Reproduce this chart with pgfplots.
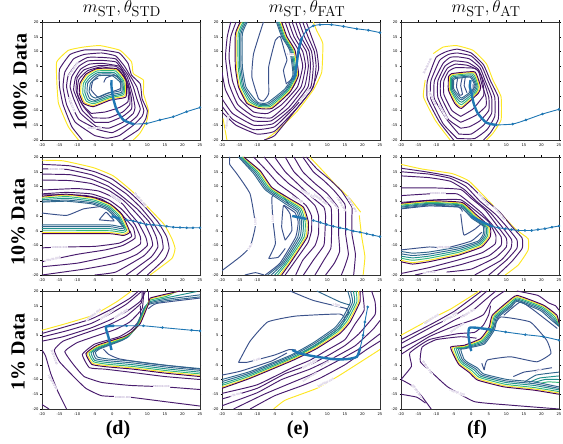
\documentclass[border=0pt]{standalone}
\usepackage[no-math]{fontspec}
\setmainfont{Liberation Serif}
\newfontfamily\tickfont{DejaVu Sans}
\usepackage{pgfplots}
\pgfplotsset{compat=1.18}
\definecolor{Vy}{HTML}{FDE725}
\definecolor{Vp}{HTML}{481B6D}
\definecolor{Vd}{HTML}{440154}
\definecolor{Vl}{HTML}{A6DB40}
\definecolor{Vg}{HTML}{35B779}
\definecolor{Vt}{HTML}{21918C}
\definecolor{Vb}{HTML}{31688E}
\definecolor{Vc}{HTML}{3B528B}
\definecolor{Lb}{HTML}{A893C4}
\definecolor{Tr}{HTML}{1F77B4}
\pgfplotsset{panel/.style={
  scale only axis,width=158pt,height=118pt,anchor=south west,
  xmin=-20,xmax=25,ymin=-20,ymax=20,
  xtick={-20,-15,...,25},ytick={-20,-15,...,20},
  tick label style={font=\tickfont\fontsize{3.7}{4}\selectfont},
  /pgf/number format/assume math mode=true,
  xticklabel style={yshift=1.6pt},yticklabel style={xshift=1.6pt},
  tick align=outside,major tick length=1.5pt,
  axis line style={line width=0.9pt,color=black!80},
  every tick/.style={line width=0.3pt,black},
}}
\newcommand\C[2]{\addplot[color=#1,line width=0.95pt,line join=round,smooth,tension=0.25] coordinates {#2};}
\newcommand\Tr[2]{%
 \addplot[color=Tr,line width=0.9pt,smooth,tension=0.4,mark=*,mark size=0.8pt,mark options={fill=Tr,draw=Tr}] coordinates {#1};
 \addplot[color=Tr,line width=2.4pt,smooth,tension=0.4] coordinates {#2};}
\newcommand\Lab[4]{\node[rotate=#3,fill=white,inner sep=0.1pt,text=Lb,font=\tickfont\fontsize{2.7}{3}\selectfont] at (axis cs:#1,#2) {#4};}
\begin{document}
\begin{tikzpicture}
\path[use as bounding box] (0pt,0pt) rectangle (563pt,444pt);
% titles
\node at (122pt,435.5pt) {\fontsize{19}{22}\selectfont $m_{\mathrm{ST}},\theta_{\mathrm{STD}}$};
\node at (307pt,435.5pt) {\fontsize{19}{22}\selectfont $m_{\mathrm{ST}},\theta_{\mathrm{FAT}}$};
\node at (486pt,435.5pt) {\fontsize{19}{22}\selectfont $m_{\mathrm{ST}},\theta_{\mathrm{AT}}$};
\node[rotate=90] at (20pt,362pt) {\fontsize{20}{24}\selectfont\bfseries 100\% Data};
\node[rotate=90] at (18pt,222pt) {\fontsize{20}{24}\selectfont\bfseries 10\% Data};
\node[rotate=90] at (18pt,92pt) {\fontsize{20}{24}\selectfont\bfseries 1\% Data};
\node at (118pt,14pt) {\fontsize{20}{24}\selectfont\bfseries (d)};
\node at (298pt,14pt) {\fontsize{20}{24}\selectfont\bfseries (e)};
\node at (477pt,14pt) {\fontsize{20}{24}\selectfont\bfseries (f)};

% ---- row 1 col 1
\begin{axis}[panel,at={(42pt,304pt)}]
\C{Vy}{(-9.6,-20)(-12.5,-15.5)(-15.3,-7.6)(-15.8,0.3)(-15.8,6.5)(-12.5,10.4)(-8.2,11.5)(-3.5,12)(2.2,10.4)(5.5,6.5)(6,2.5)(8.9,0.3)(8.9,-4.2)(10.3,-9.9)(9.8,-13.7)(7.9,-17.7)(6,-20)}
\C{Vp}{(-8.5,-20)(-11.5,-15.5)(-14,-8)(-15,-2)(-15,4)(-12,9)(-8,10.5)(-3,10.5)(2,9.5)(4.5,6)(5.5,2)(8,-1)(8.5,-6)(10,-10)(9.5,-13)(7.5,-16.5)(3,-20)}
\C{Vp}{(-5,-18.5)(-1.5,-19.4)(2,-18.5)(6,-15)(8.5,-12)(9,-10)(8,-6)(7,-2)(5,2)(3.5,5)(1,8.5)(-3,9.5)(-8,9)(-11,7.5)(-13.5,3)(-14,-2)(-13,-8)(-10.5,-14)(-5,-18.5)}
\C{Vp}{(-4,-16.5)(0,-17.5)(4,-15)(7,-12)(8,-9.5)(7,-6)(6,-2)(4.5,2)(3,4.5)(1,7.5)(-3,8)(-7,8)(-10,6)(-12.5,2)(-13,-2)(-12,-7)(-9.5,-13)(-4,-16.5)}
\C{Vp}{(-4.5,-15.5)(-1,-16)(3,-14)(6,-11)(6.5,-9)(6,-5.5)(5.2,-2)(4.2,1.5)(2.5,4.5)(1,6.5)(-3,7)(-7,6.8)(-9.5,5)(-11.5,1.5)(-12,-2)(-11,-6)(-9,-11)(-4.5,-15.5)}
\C{Vp}{(-5,-14)(-1,-14)(3,-12)(5.5,-9.5)(5.5,-6)(4.8,-2)(3.5,2)(2,5)(-3,6)(-6.5,5.7)(-9,4)(-10.5,1)(-11,-3)(-10,-6)(-8.5,-10)(-5,-14)}
\C{Vp}{(-5.5,-12.5)(-1,-12.5)(3,-10.5)(5,-8)(5,-5)(4.5,-1)(3,3)(1,5)(-4,5.2)(-8,3.8)(-10,1)(-10.3,-3)(-9.5,-6)(-8,-9)(-5.5,-12.5)}
\C{Vp}{(-6,-11)(-2,-10.5)(2,-9)(4.5,-7)(4.5,-3)(4,0)(2,3.5)(-3,4.8)(-7,3.5)(-9.5,0.5)(-10,-4)(-8.5,-8)(-6,-11)}
\C{Vc}{(-2.4,-0.5)(-1.8,1)(0.5,2)(2.2,1)(2.4,-2.5)(-1,-4)(-4,-5.5)(-6,-3)(-5.5,0)(-4,1)}
\C{Vb}{(-6.6,-3.6)(-6.2,-0.8)(-5.2,0.5)(-3.8,1.8)(0,1.8)(2.3,-0.5)(2.3,-3.3)(-1.5,-4.2)(-4.8,-5.8)(-6,-5)(-6.6,-3.6)}
\C{Vb}{(-7.2,-3.8)(-7,-0.8)(-5.8,0.8)(-4,2.3)(0.3,2.3)(2.7,-0.3)(2.7,-3.8)(-1.2,-4.8)(-5,-6.6)(-6.5,-5.8)(-7.2,-3.8)}
\C{Vt}{(-7.8,-3.9)(-7.6,-0.8)(-6.3,1.2)(-4.2,2.8)(0.6,2.8)(3,-0.2)(3,-4.2)(-1,-5.3)(-5.2,-7.1)(-7,-6.3)(-7.8,-3.9)}
\C{Vg}{(-8.4,-4)(-8.2,-0.8)(-6.8,1.6)(-4.3,3.4)(0.9,3.4)(3.3,0)(3.3,-4.6)(-0.8,-5.7)(-5.3,-7.7)(-7.4,-6.8)(-8.4,-4)}
\C{Vy}{(-9,-4.2)(-8.8,-0.8)(-7.2,2)(-4.4,3.9)(1.1,3.9)(3.6,0.2)(3.6,-5)(-0.7,-6.1)(-5.4,-8.3)(-7.9,-7.3)(-9,-4.2)}
\C{Vd}{(-9.4,-4.2)(-9.2,-0.8)(-7.5,2.3)(-4.4,4.2)(1.3,4.2)(3.9,0.3)(3.9,-5.4)(-0.6,-6.5)(-5.4,-8.7)(-8.2,-7.6)(-9.4,-4.2)}
\Lab{-11}{4}{55}{100000.000}
\Lab{-11.5}{-8}{-70}{100000.000}
\Lab{-5}{-16}{0}{10000.000}
\Tr{(25,-9)(21.2,-10.4)(17.4,-12.1)(13.6,-13.2)(9.8,-14.4)(6,-14.6)}{(6,-14.6)(3.2,-13.2)(1.3,-9.9)(0.3,-5.9)(-0.2,-2)(-0.2,0.3)}
\end{axis}

% ---- row 1 col 2
\begin{axis}[panel,at={(222pt,304pt)}]
\C{Vy}{(6,20)(7,17)(8.7,12.7)(8.4,3)(6,-3)(1.3,-10.4)(-4.4,-17)(-7.7,-20)}
\C{Vy}{(-19.7,-12.7)(-18.6,-20)}
\C{Vp}{(4,20)(5.5,15)(7,10)(7.5,4)(5.5,-3)(0.5,-10.5)(-5,-18.5)(-8,-20)}
\C{Vp}{(3,20)(4.5,15)(6.3,10)(6.8,5)(6,-2)(1.5,-9)(-5,-17)(-10,-18)(-16,-15)(-20,-10.5)}
\C{Vp}{(2,20)(3.5,15)(5.5,10)(6,5)(5.3,-2)(1,-8.5)(-5,-15.5)(-11,-16.5)(-17,-13)(-20,-8.5)}
\C{Vp}{(1,20)(2.5,15)(4.8,10)(5.2,5)(4.5,-2)(0,-9)(-5.5,-14.5)(-11,-15)(-17,-11)(-20,-6)}
\C{Vp}{(0,20)(1.5,15)(4,10)(4.6,5)(3.5,-2)(-1,-9)(-6,-13.5)(-11,-13.5)(-16,-9.5)(-19,-3)(-20,3)}
\C{Vp}{(-1,20)(0.5,15)(3,10)(3.8,5)(2.5,-2)(-2,-8.5)(-6,-12.5)(-11,-12)(-15.5,-8)(-18,-1)(-19,8)(-18.5,15)(-17.5,20)}
\C{Vp}{(-2,20)(-0.5,15)(2,10)(3,5)(1.5,-2)(-3,-8)(-7,-11)(-11,-10.5)(-15,-6)(-17,0)(-18,8)(-17.5,15)(-16,20)}
\C{Vc}{(-8.2,20)(-11,9.3)(-11.5,1.4)(-9.6,-6)(-8.2,-6.8)(-6.7,-4.2)(-6.7,4.8)(-4.8,13.8)(-3.4,15)(-2,9.3)(-1.5,7)(-2.5,3.6)(-1.7,-0.8)}
\C{Vc}{(-1.8,-1)(-0.2,0.5)(1.2,2)(0.3,-2)(-1.8,-2)}
\C{Vb}{(-12.8,20)(-14.2,16)(-14.2,4.8)(-13.2,-2)(-11,-5.7)(-9.6,-7.4)(-7.1,-7.4)(-2.1,-2.7)(0.2,2)(-0.7,10.4)(-3,15)(-4.5,20)}
\C{Vb}{(-13.2,20)(-14.6,16)(-14.6,4.8)(-13.7,-2)(-11.5,-6.1)(-9.6,-7.8)(-6.8,-7.8)(-1.8,-3)(0.5,2)(-0.4,10.4)(-2.7,15)(-4.2,20)}
\C{Vt}{(-13.6,20)(-15,16)(-15,4.8)(-14.1,-2)(-11.9,-6.5)(-9.6,-8.2)(-6.5,-8.2)(-1.5,-3.2)(0.8,2)(-0.1,10.4)(-2.4,15)(-3.9,20)}
\C{Vg}{(-14,20)(-15.4,16)(-15.4,4.8)(-14.5,-2)(-12.3,-6.9)(-9.6,-8.6)(-6.2,-8.6)(-1.2,-3.4)(1.1,2)(0.2,10.4)(-2.1,15)(-3.6,20)}
\C{Vy}{(-14.5,20)(-15.9,16)(-15.9,4.8)(-15,-2)(-12.7,-7.3)(-9.6,-9)(-6,-9)(-0.9,-3.6)(1.5,2)(0.5,10.4)(-1.8,15)(-3.3,20)}
\C{Vd}{(-14.8,20)(-16.2,16)(-16.2,4.8)(-15.3,-2)(-12.9,-7.6)(-9.6,-9.3)(-5.8,-9.3)(-0.6,-3.7)(1.8,2)(0.8,10.4)(-1.5,15)(-3,20)}
\Lab{3.5}{-5}{50}{100000.000}
\Lab{-18.5}{-14}{80}{10000.000}
\Lab{-0.5}{9}{0}{1.000}
\Tr{(25,16.4)(21.7,17.2)(18.4,17.7)(14.6,18.5)(11.2,19.1)(7.9,19.1)(6,18.7)(4.1,17.2)(2.7,14.4)}{(2.7,14.4)(1.8,10.4)(1.3,5.9)(0.9,2.5)(0.2,0.3)}
\end{axis}

% ---- row 1 col 3
\begin{axis}[panel,at={(401pt,304pt)}]
\C{Vy}{(-6,-20)(-7.5,-17.7)(-10.3,-13.2)(-13.6,-5.4)(-13.1,0.3)}
\C{Vy}{(-10.8,9.3)(-8,11.5)(-4.2,12)(0.5,10.4)(4.3,5.9)(6.2,0.3)(8.5,-5.4)(8.5,-13.2)(6.2,-17.7)(4.3,-20)}
\C{Vp}{(-5,-20)(-9,-14)(-12.5,-6)(-12.5,0)(-10,8)(-7,10)(-4,10.8)(0,9.5)(3.5,5.5)(5.5,0)(7.7,-5.5)(7.7,-13)(5.5,-17.5)(3.5,-20)}
\C{Vp}{(-4,-19.5)(-8,-14.5)(-11.5,-6)(-11.5,0)(-9,7)(-6.5,9)(-4,9.5)(0,8.5)(3,5)(4.8,0)(6.7,-5.5)(6.7,-12)(4.5,-16.5)(1,-19.5)(-4,-19.5)}
\C{Vp}{(-3.5,-18)(-7,-13)(-10.5,-6)(-10.5,0)(-8,6)(-6,8)(-4,8.2)(-0.5,7.5)(2.5,4.5)(4,0)(5.8,-5.5)(5.8,-11)(3.5,-15)(0,-18)(-3.5,-18)}
\C{Vp}{(-3,-16)(-6.5,-13)(-9.5,-5.5)(-9.5,0)(-7.5,5)(-5,6.8)(-1,6.3)(2,4)(3.5,0)(5,-5.5)(5,-10)(2.5,-13.5)(-0.5,-15.5)(-3,-16)}
\C{Vp}{(-3,-14)(-6,-11.5)(-8.7,-5)(-8.7,0)(-6.8,4.3)(-4.5,5.7)(-1,5.3)(2,3.5)(3,-1)(4.2,-5.5)(4.2,-8.5)(1.5,-11.5)(-1,-13)(-3,-14)}
\C{Vp}{(-3,-12)(-5.5,-10)(-7.8,-4.5)(-7.8,0)(-6.5,3.2)(-4.5,4.5)(1,4.3)(2.8,2)(3.5,-2)(3.5,-5)(0.5,-9.5)(-3,-12)}
\C{Vc}{(-3.9,0.8)(-4.2,-2)(-3.3,-4.8)(-2.5,-4.5)(-3,-1.5)(-2.6,1)}
\C{Vc}{(-1.7,1.1)(-2,-1.5)(-1.2,-4)}
\C{Vc}{(-0.7,-3.5)(0.5,-3)(0.5,-1)}
\C{Vb}{(-5,0.4)(-4.5,0.8)(-0.3,1.3)(1.1,-1.7)(0.2,-3.3)(-2.7,-5.8)(-3.5,-5)(-5,-2.6)(-5,0.4)}
\C{Vb}{(-5.3,0.6)(-4.8,1.1)(0,1.6)(1.4,-1.8)(0.6,-3.5)(-2.7,-6.4)(-3.7,-5.6)(-5.3,-2.8)(-5.3,0.6)}
\C{Vt}{(-5.6,0.9)(-5,1.5)(0.3,2)(1.7,-1.9)(1,-3.7)(-2.7,-7.2)(-3.9,-6.2)(-5.6,-3)(-5.6,0.9)}
\C{Vg}{(-5.9,1.1)(-5.2,1.9)(0.6,2.4)(2,-1.9)(1.4,-3.9)(-2.7,-8)(-4.1,-6.8)(-5.9,-3)(-5.9,1.1)}
\C{Vy}{(-6.2,1.3)(-5.4,2.2)(0.8,2.8)(2.3,-2)(1.7,-4)(-2.7,-8.8)(-4.4,-7.3)(-6.2,-3.1)(-6.2,1.3)}
\C{Vd}{(-6.5,1.4)(-5.6,2.5)(1,3.1)(2.7,-2)(2,-4.2)(-2.8,-9.3)(-4.7,-7.6)(-6.5,-3.1)(-6.5,1.4)}
\Lab{-12.5}{5}{65}{1000000.000}
\Lab{-11}{-6}{-65}{100000.000}
\Lab{-8}{-10.5}{-60}{100000.000}
\Tr{(25,-9.6)(20.3,-11.2)(15.6,-13.2)(11.8,-14.6)(7.1,-14.9)}{(7.1,-14.9)(4.3,-14.1)(1.9,-11)(0.7,-7.6)(0.1,-4.2)(-0.4,-2)(-0.2,0.3)}
\end{axis}

% ---- row 2 col 1
\begin{axis}[panel,at={(42pt,169pt)}]
\C{Vy}{(-20,18.9)(-14,18.7)(-5.4,16.4)(0.3,13.6)(6,8)(14.6,-2.6)(17,-7.7)(17.9,-11)(17,-14.4)(10.8,-20)}
\C{Vp}{(-20,17.5)(-12,17)(-5,15)(0,12.5)(5,8)(9,3.5)(13,-2)(15.5,-7)(16.2,-11)(15,-14.5)(10,-20)}
\C{Vp}{(-20,16)(-13,15.8)(-6,14)(-1,11.5)(4,7.5)(8,3)(11.5,-2)(14,-7)(14.5,-11)(12.5,-14.5)(7,-20)}
\C{Vp}{(-20,14.2)(-12,14)(-6,12.5)(-1,10)(3,6.5)(7,2.5)(10.5,-2)(12.5,-7)(13,-10.5)(11,-14)(4,-20)}
\C{Vp}{(-20,12.2)(-12,12)(-6,11)(-1,8.7)(3,5.5)(6,2)(9,-2)(11,-7)(11.5,-10)(9,-13.5)(1,-19)(-5,-20)}
\C{Vp}{(-20,8.8)(-10,9.3)(-4,8.5)(0,6.5)(3,4)(5,1)(7.5,-2.5)(9.5,-7)(10,-10)(7,-13)(1,-16)(-8,-18)(-20,-20)}
\C{Vp}{(-20,7.5)(-13,8)(-6,7.5)(-1,5.5)(2.5,2.5)(4.5,0)(6.5,-3)(8,-7)(8,-9.5)(4.5,-12)(-2,-14)(-10,-16)(-20,-17.2)}
\C{Vp}{(-20,-15.5)(-10,-13)(-2,-11.5)(3,-10)(6.5,-7.5)(6,-4)(3.5,-0.5)(1,2.5)(-3,5.7)(-8,7)(-20,7.2)}
\C{Vp}{(-20,-10.8)(-14,-10.5)(-5,-10.3)(2,-9.2)(5.5,-7)(5,-5)}
\C{Vc}{(-20,1)(-13,0.2)(-8.2,2.4)(-3.4,3.2)}
\C{Vc}{(-3.7,-1.3)(-1.8,1.3)(-0.3,-0.5)(0.5,-1.7)(-3.7,-1.3)}
\C{Vb}{(-20,4.7)(-13,5)(-5.8,4.1)(-1.5,2.2)(1.1,-0.8)(3,-3.6)(2.2,-3.6)(-0.8,-3)(-13,-3)(-20,-3)}
\C{Vb}{(-20,5)(-13,5.4)(-5.7,4.5)(-1.3,2.6)(1.4,-0.5)(3.3,-4)(2.5,-4.3)(-0.7,-3.6)(-13,-3.6)(-20,-3.6)}
\C{Vt}{(-20,5.5)(-13,6)(-5.6,5)(-1.1,3)(1.7,-0.1)(3.7,-4.4)(2.8,-5)(-0.6,-4.3)(-13,-4.3)(-20,-4.3)}
\C{Vg}{(-20,6)(-13,6.6)(-5.5,5.5)(-0.9,3.4)(2,0.2)(4.1,-4.8)(3,-5.6)(-0.6,-5)(-13,-5)(-20,-5)}
\C{Vy}{(-20,6.4)(-13,7.1)(-5.4,6)(-0.7,3.8)(2.4,0.5)(4.6,-5.1)(3.1,-6.2)(-0.6,-5.6)(-13,-5.6)(-20,-5.6)}
\C{Vd}{(-20,6.7)(-13,7.4)(-5.4,6.3)(-0.6,4.1)(2.7,0.7)(5,-5.4)(3.2,-6.6)(-0.6,-6)(-13,-6)(-20,-6)}
\Lab{-16}{15.9}{0}{100000.000}
\Lab{-15}{-10.6}{0}{100000.000}
\Lab{-17}{-14.7}{15}{100000.000}
\Lab{1}{6}{-35}{1000.000}
\Lab{8}{5.5}{-50}{1000000.000}
\Tr{(25,-4)(23,-4)(21.2,-4)(19.3,-3.9)(17.4,-3.8)(15.5,-3.5)(13.6,-3.2)(11.7,-3)(9.8,-2.9)(8,-2.3)(6,-1.7)(4,-1.3)}{(2.2,-1)(-0.2,0)}
\end{axis}

% ---- row 2 col 2
\begin{axis}[panel,at={(222pt,169pt)}]
\C{Vy}{(5,20)(8.8,15.2)(12.2,10.8)(16.5,5.8)(19.5,1.3)}
\C{Vy}{(19.1,0.2)(19.8,-7.1)(20.7,-13.8)(20.2,-20)}
\C{Vp}{(4,20)(7,16)(11,12)(14,8.5)(17,3)(17,0)(17,-6)(18,-13)(17.5,-20)}
\C{Vp}{(3,20)(6,15)(9,12)(12,8.5)(15,4)(15.2,0)(15.2,-6)(16,-13)(15,-17)(14,-20)}
\C{Vp}{(0.5,20)(3,15)(6.5,11)(10,7.5)(13,3)(13.2,0)(13.2,-6)(13.5,-12)(12,-16)(9.5,-20)}
\C{Vp}{(-2,20)(0.5,15)(4,11)(8,7)(11,3)(11.2,0)(11.2,-6)(11,-11)(9,-15)(6.5,-20)}
\C{Vp}{(-5,20)(-2,15)(1.5,11)(5,7)(9,3)(9.5,0)(9.3,-6)(9,-10)(6,-15)(3.2,-20)}
\C{Vp}{(-8,20)(-4.5,15)(-1,11)(3,7.5)(6.5,3.5)(7.5,0)(7.5,-6)(6.5,-10)(3,-15)(1,-20)}
\C{Vp}{(-11,20)(-7,15)(-4,11)(0,7.5)(4,3.5)(5.5,0)(5.5,-5)(4.5,-9)(1,-15)(-2,-20)}
\C{Vc}{(-20,-18.5)(-14.8,-13.8)(-12,-10.5)(-10.5,-3.2)(-12,7.5)(-15.7,14.2)(-17.8,17.5)(-17.8,20)}
\C{Vc}{(-13.5,-20)(-10.5,-19.2)(-8,-20)}
\C{Vc}{(-6.7,-14.4)(-4.8,-9.4)(-5.5,-1.5)(-5.8,6.3)(-4.4,8)(-3,7.5)(-1,4)}
\C{Vc}{(-6.7,-14.4)(-4,-14)(-2,-11)}
\C{Vc}{(-2,-8.2)(-0.1,-4.9)(-0.6,0.7)(-2.5,3.5)(-3,-3.8)(-2,-8.2)}
\C{Vc}{(-2.4,3.7)(0.8,1.1)(1.7,-2)(1,-7.1)(-3.5,-16)(-7.7,-20)}
\C{Vb}{(-15.3,20)(-11,14.4)(-7.7,8.9)(-1.9,4.1)(1.3,1.5)(2.2,-2)(1.6,-7.1)(-3,-16)(-7,-20)}
\C{Vb}{(-15,20)(-10.6,14.6)(-7.3,9.1)(-1.6,4.5)(1.7,1.9)(2.7,-2)(2.2,-7.1)(-2.5,-16)(-6,-20)}
\C{Vt}{(-14.7,20)(-10.2,14.8)(-6.9,9.3)(-1.3,4.9)(2.1,2.2)(3.2,-2)(2.8,-7.1)(-2,-16)(-5,-20)}
\C{Vg}{(-14.3,20)(-9.8,15)(-6.5,9.5)(-1,5.2)(2.5,2.5)(3.7,-2)(3.4,-7.1)(-1.5,-16)(-4.2,-20)}
\C{Vy}{(-14,20)(-9.4,15.2)(-6.1,9.6)(-0.8,5.5)(2.9,2.8)(4.2,-2)(3.9,-7.1)(-1,-16)(-3.5,-20)}
\C{Vd}{(-13.8,20)(-9.1,15.3)(-5.8,9.7)(-0.6,5.8)(3.2,3)(4.6,-2)(4.3,-7.1)(-0.6,-16)(-3,-20)}
\Lab{-10.5}{-2}{90}{1.000}
\Lab{-5.5}{-1}{90}{1.000}
\Lab{-12}{-10.5}{60}{1.000}
\Lab{1.5}{5.5}{-30}{1000.000}
\Lab{4.5}{7.5}{-30}{100000.000}
\Lab{8}{5.5}{-35}{100000.000}
\Lab{11.5}{4.5}{-50}{100000.000}
\Lab{14}{4}{-60}{100000.000}
\Lab{17}{4}{-60}{1000000.000}
\Tr{(25,-7)(23,-6.5)(21.2,-6)(19.3,-5.5)(17.4,-5.1)(15.5,-4.5)(13.6,-4)(11.7,-3.5)(9.8,-2.9)(8,-2.2)(6,-1.5)}{(4.1,-1)(0,0)}
\end{axis}

% ---- row 2 col 3
\begin{axis}[panel,at={(401pt,169pt)}]
\C{Vy}{(-20,17.5)(-13.9,15.9)(-5.5,14.4)(-0.7,11.9)(4.9,5.2)(12.5,-4.3)(16.2,-7.7)(16.2,-11.6)(13.4,-16.6)(9.7,-20)}
\C{Vp}{(-20,16.2)(-13,15)(-6,13.5)(-1,11)(3,6.5)(8,1.5)(11.5,-3.5)(14.5,-7.5)(14.5,-11)(11.5,-15.5)(7.5,-20)}
\C{Vp}{(-20,15)(-12,14.2)(-6,12.8)(-1.5,10)(2.5,5)(7,0.5)(10,-3.5)(13,-8)(13,-11)(10,-15)(5,-20)}
\C{Vp}{(-20,13.6)(-12,13)(-6,11.8)(-2,9)(1.5,5)(5.5,1)(9,-4)(11.5,-8)(11.3,-11)(8.5,-15)(1,-20)}
\C{Vp}{(-20,9.5)(-10,9.5)(-3,9)(0,6)(4,2)(7.5,-3.5)(10,-7.5)(10,-10.5)(7,-14)(0,-18)(-7,-19)}
\C{Vp}{(-20,6.9)(-12,7.5)(-4,7.5)(-0.5,4.5)(3,1)(6,-3)(8.5,-7)(8.5,-10)(5,-13.5)(-3,-16.5)(-12,-19)(-16,-20)}
\C{Vp}{(-20,4.6)(-10,5.5)(-3,5.5)(1,2)(5,-2)(7,-6.5)(6.8,-9.5)(3,-12.5)(-4,-15)(-12,-17.5)(-20,-19.5)}
\C{Vc}{(-3,0.7)(-2.5,-4)(-2,-6.5)(1,-4.5)(2.7,-2.8)}
\C{Vc}{(-20,-11.5)(-12,-10.5)(-7,-10.8)(0,-8.5)(3,-5.5)}
\C{Vc}{(-20,2.4)(-12,3.4)(-3.5,3)(-2.5,1.5)}
\C{Vb}{(-20,2.6)(-12,3.7)(-3.1,3)(0.2,-0.8)(3.4,-3.4)(3.4,-6.2)(2,-8.5)(-3.6,-10.5)(-12,-12.2)(-16.7,-12.6)(-20,-12)}
\C{Vb}{(-20,3)(-12,4)(-3,3.4)(0.4,-0.5)(3.8,-3.5)(3.8,-6.4)(2.2,-8.9)(-3.6,-11.1)(-12,-12.9)(-16.7,-13.4)(-20,-12.8)}
\C{Vt}{(-20,3.3)(-12,4.3)(-2.9,3.7)(0.6,-0.2)(4.2,-3.6)(4.2,-6.6)(2.4,-9.3)(-3.6,-11.7)(-12,-13.6)(-16.7,-14.2)(-20,-13.6)}
\C{Vg}{(-20,3.7)(-12,4.6)(-2.8,4)(0.8,0.1)(4.6,-3.7)(4.6,-6.8)(2.6,-9.7)(-3.6,-12.3)(-12,-14.3)(-16.7,-15)(-20,-14.3)}
\C{Vy}{(-20,4)(-12,4.9)(-2.7,4.3)(1,0.4)(5,-3.8)(5,-7)(2.8,-10.1)(-3.6,-12.9)(-12,-15)(-16.7,-15.8)(-20,-15)}
\C{Vd}{(-20,4.3)(-12,5.2)(-2.6,4.6)(1.2,0.7)(5.4,-3.8)(5.4,-7.1)(3,-10.5)(-3.6,-13.3)(-12,-15.5)(-16.7,-16.3)(-20,-15.5)}
\Lab{-9.5}{7.5}{0}{100000.000}
\Lab{-8}{-10.7}{5}{1000.000}
\Lab{3.5}{5.5}{-50}{100000.000}
\Lab{8}{0.8}{-50}{1000000.000}
\Lab{-12}{-19.2}{5}{1000.000}
\Tr{(25,-3.4)(23,-3.8)(21,-4.3)(19,-4.6)(17.2,-4.9)(15.3,-4.9)(13.4,-4.9)(11.5,-4.6)(9.7,-4.3)(7.8,-4)(5.9,-3.5)}{(5.9,-3.5)(2.2,-1.5)(0,0)}
\end{axis}

% ---- row 3 col 1
\begin{axis}[panel,at={(42pt,35pt)}]
\C{Vy}{(-20,6.7)(-13,9)(-5.4,11.8)(1.2,16.3)(5.5,20)}
\C{Vp}{(-20,5.6)(-13,8)(-6,10.5)(0,14)(5,17.5)(7.5,20)}
\C{Vp}{(-20,4.4)(-13,6.5)(-6,9)(-1,12)(4,15.5)(8.5,20)}
\C{Vp}{(-20,3)(-14,4.5)(-6,7.5)(-1,10)(4,13)(8,16.5)(9.5,20)}
\C{Vp}{(25,-13.4)(15,-12.5)(5,-12)(-3,-11)(-8,-9)(-11,-5)(-13.5,-0.5)(-10,2.5)(-4,5)(1,7)(5,9.5)(8.5,14)(9,20)}
\C{Vp}{(25,-19)(15,-17.5)(5,-16)(-3,-15.5)(-7.5,-13)(-11,-9)(-15,-4)(-16.5,0)(-14,3)(-7,6)(-1,8.5)(4,11.5)(8.3,16)(8.5,20)}
\C{Vp}{(25,-10)(15,-9)(5,-7.5)(-2,-6.5)(-6.5,-6)(-8.5,-1.5)(-5,2)(2,4.5)(5.5,7)(8,10.5)(8,15)}
\C{Vp}{(-13,-20)(-15.5,-14)(-17.5,-8)(-19,-2)(-20,0)}
\C{Vp}{(-20,-18.5)(-18,-20)}
\C{Vp}{(10.4,20)(10.4,15.8)}
\C{Vc}{(-2.5,0.3)(-1,-1.5)(2,-3)(10,-4.5)(25,-6.5)}
\C{Vc}{(10.3,14)(12.7,15.8)(25,17.6)}
\C{Vb}{(25,-6.3)(15.5,-5.2)(6,-3.8)(-1.6,-3)(-4.2,-2.4)(-4.8,-0.8)(-3.5,0.4)(2.3,3)(4.5,4.4)(6.5,7.4)(9.2,14.5)(10.8,15.6)(15.5,16.7)(25,18)}
\C{Vb}{(25,-6.9)(15.5,-5.8)(6,-4.4)(-1.6,-3.6)(-4.6,-3)(-5.4,-0.9)(-3.7,0.6)(2.5,3.3)(4.7,4.7)(6.8,7.7)(9.4,14.7)(10.8,16)(15.5,17.2)(25,18.7)}
\C{Vt}{(25,-7.5)(15.5,-6.4)(6,-5)(-1.6,-4.2)(-5,-3.5)(-6,-1)(-3.9,0.8)(2.7,3.6)(4.9,5)(7.1,8)(9.6,15)(10.8,16.4)(15.5,17.7)(24,19.8)}
\C{Vg}{(25,-8.1)(15.5,-7)(6,-5.6)(-1.6,-4.8)(-5.3,-4)(-6.6,-1.1)(-4.1,1)(2.9,3.9)(5.1,5.4)(7.4,8.4)(9.9,15.2)(10.8,16.9)(15.5,18.2)(18.5,20)}
\C{Vy}{(25,-8.6)(15.5,-7.5)(6,-6.1)(-1.6,-5.3)(-5.6,-4.5)(-7.1,-1.2)(-4.3,1.3)(3.1,4.2)(5.3,5.8)(7.7,8.7)(10.2,15.5)(10.8,17.3)(15.5,18.7)(19,20)}
\C{Vd}{(25,-9)(15.5,-7.9)(6,-6.5)(-1.6,-5.7)(-5.8,-4.9)(-7.5,-1.2)(-4.4,1.6)(3.2,4.5)(5.5,6.1)(8,9)(10.4,15.8)(10.8,17.6)(15.5,19)(19.3,20)}
\Lab{-5.4}{11.8}{35}{1000000.000}
\Lab{-1.5}{12}{35}{100000.000}
\Lab{2.5}{12.2}{35}{100000.000}
\Lab{14}{-12.5}{0}{100000.000}
\Lab{3}{-16}{0}{100000.000}
\Lab{-16.5}{-2.5}{-70}{100000.000}
\Lab{-17}{-11}{-60}{100000.000}
\Tr{(25,6.5)(22.6,6.7)(14.3,7.6)(8.9,8.2)(4.1,8.2)(0.3,8.2)}{(0.3,8.2)(-1.8,7.8)(-1.1,4.5)(-0.2,0)}
\end{axis}

% ---- row 3 col 2
\begin{axis}[panel,at={(222pt,35pt)}]
\C{Vy}{(-5.3,-20)(-2,-17)(7,-13)(13.6,-8.5)(24,-0.6)(25,0.2)}
\C{Vp}{(-12,-20)(-5,-15.5)(3,-12)(8,-9.5)(15,-5)(21,0)(25,3)}
\C{Vp}{(-16.7,-20)(-8,-15)(0,-11)(6,-8)(14,-3)(20,1)(25,5.5)}
\C{Vp}{(-20,-18.9)(-10,-14.5)(-3,-10)(5,-6.5)(12,-2.5)(18,1.5)(23,7)(25,10)}
\C{Vp}{(-20,-16.6)(-10,-13)(-2,-8)(5,-5)(10,-2)(15,1.5)(19,5.5)(23.6,12)(23.6,16.3)(22.6,20)}
\C{Vp}{(-20,-14.7)(-10,-11.8)(0,-6)(5,-3.5)(10,0)(15,3.5)(18,9)(20.5,13.5)(20,20)}
\C{Vc}{(-15.3,-4.2)(-13,-4.2)(-10,-3.3)(-5,-1.7)(-1,0.1)(1,0)}
\C{Vc}{(-15.3,-4.2)(-12,3)(-7,9.5)(1,11.5)(13.5,12.2)(15,10.5)(13.5,7.5)(8.5,3)(3,-1)}
\C{Vc}{(-0.6,20)(6,16.8)(15.5,14)(16,12.5)(15,11)}
\C{Vb}{(7,20)(13.6,16.3)(16.5,15.2)}
\C{Vc}{(-20,-8.5)(-14.8,-7.2)(-6,-3.8)(-1.5,-1)}
\C{Vb}{(-20,-10)(-12,-7.3)(-0.5,-1.8)(5.9,2.4)(12.1,7.5)(14.5,11.2)(16.6,16.3)(15.8,20)}
\C{Vb}{(-20,-10.7)(-12,-7.8)(-0.3,-2.1)(6.1,2)(12.4,7.1)(14.9,10.8)(17.2,16.3)(16.6,20)}
\C{Vt}{(-20,-11.4)(-12,-8.3)(-0.1,-2.5)(6.4,1.6)(12.7,6.7)(15.3,10.4)(17.8,16.3)(17.4,20)}
\C{Vg}{(-20,-12)(-12,-8.8)(0.1,-2.8)(6.6,1.2)(13,6.3)(15.7,10)(18.4,16.3)(18.2,20)}
\C{Vy}{(-20,-12.6)(-12,-9.3)(0.3,-3.1)(6.8,0.8)(13.3,5.9)(16.1,9.7)(18.9,16.3)(18.9,20)}
\C{Vd}{(-20,-13)(-12,-9.6)(0.4,-3.4)(7,0.5)(13.6,5.6)(16.5,9.5)(19.3,16.3)(19.3,20)}
\Lab{-10}{-3.3}{15}{1.000}
\Lab{12.5}{15.2}{-15}{1.000}
\Lab{-16}{-15.2}{15}{100.000}
\Lab{5}{-4.8}{30}{100000.000}
\Lab{10}{-4.2}{30}{100000.000}
\Lab{5}{-9.2}{30}{100000.000}
\Lab{9.5}{-11.2}{25}{1000000.000}
\Tr{(21.5,14.6)(20.7,9.5)(20.2,5)(19.3,0.5)}{(19.3,0.5)(18.4,-2.3)(15.5,-3.1)(11.7,-3.1)(6,-2.1)(2.3,-1.2)(0,0)}
\end{axis}

% ---- row 3 col 3
\begin{axis}[panel,at={(401pt,35pt)}]
\C{Vy}{(-20,5)(-11.4,10.6)(-5.7,14)(2.3,20)}
\C{Vp}{(-20,3.5)(-11,9)(-5,13)(-1,16.5)(3,20)}
\C{Vp}{(-20,2.2)(-11,8)(-5,11.5)(0,15.5)(4.5,20)}
\C{Vp}{(-20,0.5)(-11,6)(-5,10)(0,13)(4,17)(7,20)}
\C{Vp}{(-20,-1.5)(-12,4.5)(-5,8)(0,10)(3.5,12)(6,17)(9.5,20)}
\C{Vp}{(-20,-10)(-17,-5.5)(-17.5,-1)(-12,3.5)(-4,5.5)(1,6)(3.5,8.5)(5,12)(5.5,15)}
\C{Vp}{(1.5,4)(-3,4.5)(-10,3.5)(-14,1)(-14.5,-4)(-11.4,-7.4)(-6.7,-12.5)(0.9,-17.5)(11.2,-18.7)(25,-20)}
\C{Vp}{(-20,-10)(-17,-12)(-14.2,-15.5)(-11.4,-20)}
\C{Vp}{(-20,-15)(-15.5,-16)(-13,-18)}
\C{Vp}{(13,20)(19,18.5)(22,16)(24,15)(25,13.5)}
\C{Vb}{(15,-11)(18.5,-8.5)(25,-7.5)}
\C{Vt}{(16.5,-11)(19.5,-9.5)(25,-8.8)}
\C{Vt}{(18,-11)(21,-10)(25,-10)}
\C{Vg}{(20,-11.2)(22,-10.8)(25,-11)}
\C{Vc}{(3.7,-6.8)(4.6,-3.4)(11.2,-2.3)(18.7,-4)(22.7,-1.2)(21.5,3.3)(16.8,9.5)(8.4,11.2)(6.5,8)(5.5,5.5)}
\C{Vc}{(3,-4.5)(3.7,-6.8)}
\C{Vc}{(9.3,11.8)(14,16.3)(17.8,13.5)(24.5,7.3)}
\C{Vc}{(12,-9)(15,-7.5)(18,-7)(23,-6)}
\C{Vb}{(25,8)(22.5,10.5)(19.7,13.4)(13.1,16.5)(11.4,14.6)(7.5,10.9)(6.6,6.8)(3.7,2)(-2,0.4)(-3,0.2)(-2.1,-3)(-1,-4.2)(1.8,-6.1)(3.5,-8.1)(10.2,-10)(17.8,-10.8)(25,-12.5)}
\C{Vb}{(25,8.2)(22.9,10.8)(19.9,13.8)(13.1,16.9)(11.2,14.9)(7.2,11.1)(6.3,7)(3.5,2.4)(-2,0.6)(-3.6,0.3)(-2.6,-3.1)(-1.5,-4.4)(1.3,-6.4)(3.1,-8.5)(10,-10.5)(17.8,-11.4)(25,-13)}
\C{Vt}{(25,8.5)(23.3,11.1)(20.1,14.2)(13.1,17.3)(11,15.2)(6.9,11.3)(6,7.2)(3.3,2.8)(-2,0.8)(-4.2,0.4)(-3.1,-3.2)(-2,-4.6)(0.8,-6.7)(2.7,-8.9)(9.8,-11)(17.8,-12)(25,-13.5)}
\C{Vg}{(25,8.8)(23.7,11.4)(20.3,14.6)(13.1,17.7)(10.7,15.6)(6.6,11.5)(5.7,7.4)(3.1,3.2)(-2,1)(-4.8,0.6)(-3.6,-3.3)(-2.5,-4.8)(0.2,-7)(2.3,-9.3)(9.6,-11.6)(17.8,-12.7)(25,-14.1)}
\C{Vy}{(25,9)(24.1,11.6)(20.5,14.9)(13.1,18.1)(10.5,16)(6.3,11.7)(5.4,7.6)(2.9,3.6)(-2,1.3)(-5.4,0.8)(-4,-3.4)(-3,-5)(-0.3,-7.3)(2,-9.8)(9.4,-12.1)(17.8,-13.2)(25,-14.6)}
\C{Vd}{(25,9)(24.4,11.8)(20.6,15.2)(13.1,18.5)(10.3,16.3)(6,11.8)(5.1,7.8)(2.7,3.9)(-2,1.6)(-5.9,1)(-4.3,-3.4)(-3.4,-5.1)(-0.6,-7.6)(1.8,-10.2)(9.3,-12.5)(17.8,-13.6)(25,-15)}
\Lab{-11.4}{10.4}{32}{1000000.000}
\Lab{-6}{11}{32}{100000.000}
\Lab{-1}{12.3}{32}{100000.000}
\Lab{-4}{7.5}{32}{100000.000}
\Lab{-12.5}{-6}{-55}{100000.000}
\Lab{-15.5}{-14}{-55}{100000.000}
\Lab{-4}{-14.5}{-20}{100000.000}
\Lab{19}{-7.2}{25}{1.000}
\Tr{(25,3.3)(20.6,4.5)(15.4,5.2)(9.8,6.1)(5.6,6.9)}{(5.6,6.9)(1.8,7.5)(-0.5,7.5)(-0.8,5)(-0.2,0.5)(0.1,-0.3)}
\end{axis}
\end{tikzpicture}
\end{document}
